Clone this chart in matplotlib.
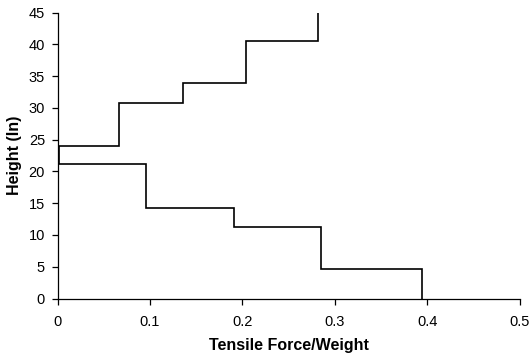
import numpy as np
import matplotlib
matplotlib.use("Agg")
import matplotlib.pyplot as plt

plt.rcParams['font.family'] = ['Liberation Sans', 'DejaVu Sans']

# Tensile force/weight held constant over each height band
force = [0.394, 0.285, 0.191, 0.096, 0.002, 0.066, 0.136, 0.204, 0.282]
# Band boundaries (in)
height = [0, 4.6, 11.2, 14.3, 21.1, 24.0, 30.7, 33.9, 40.5, 45]

x_ticks = [0, 0.1, 0.2, 0.3, 0.4, 0.5]
x_tick_labels = ['0', '0.1', '0.2', '0.3', '0.4', '0.5']
y_ticks = [0, 5, 10, 15, 20, 25, 30, 35, 40, 45]

xs = np.repeat(force, 2)
ys = np.column_stack([height[:-1], height[1:]]).ravel()

fig = plt.figure(figsize=(5.30, 3.59), dpi=100)
ax = fig.add_axes([0.1085, 0.1685, 0.8725, 0.7965])
ax.plot(xs, ys, color='black', linewidth=1.2, solid_joinstyle='miter')

ax.set_xlim(0, 0.5)
ax.set_ylim(0, 45)
ax.set_xticks(x_ticks)
ax.set_xticklabels(x_tick_labels)
ax.set_yticks(y_ticks)
for s in ['top', 'right']:
    ax.spines[s].set_visible(False)
for s in ['left', 'bottom']:
    ax.spines[s].set_linewidth(0.9)
ax.tick_params(direction='out', length=4, width=0.9, labelsize=10.5)
ax.tick_params(axis='x', pad=8)
ax.tick_params(axis='y', pad=5)

ax.set_xlabel('Tensile Force/Weight', fontsize=11.5, fontweight='bold', labelpad=6)
ax.set_ylabel('Height (In)', fontsize=11.5, fontweight='bold', labelpad=5)

fig.savefig('out.png', dpi=100)
